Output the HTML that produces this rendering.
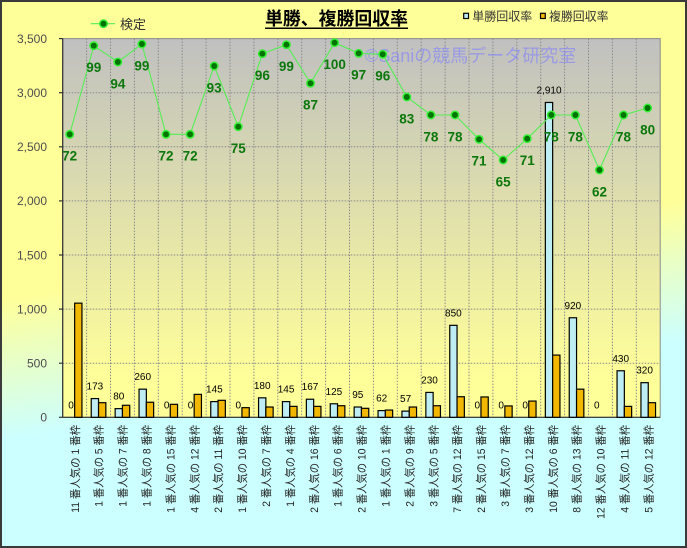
<!DOCTYPE html>
<html><head><meta charset="utf-8">
<style>
html,body{margin:0;padding:0;background:#fff;}
svg{display:block;}
text{font-family:"Liberation Sans","Noto Sans CJK JP",sans-serif;}
</style></head>
<body>
<svg width="687" height="548" viewBox="0 0 687 548" xmlns="http://www.w3.org/2000/svg">
<defs>
<linearGradient id="bg" gradientUnits="userSpaceOnUse" x1="333" y1="251" x2="353" y2="389">
<stop offset="0" stop-color="#FFFF99"/><stop offset="1" stop-color="#CCFFFF"/>
</linearGradient>
<linearGradient id="pa" gradientUnits="userSpaceOnUse" x1="0" y1="38.6" x2="0" y2="417.3">
<stop offset="0" stop-color="#C0C0C0"/><stop offset="0.9" stop-color="#FFFF99"/><stop offset="1" stop-color="#FFFF99"/>
</linearGradient>
</defs>
<rect x="0" y="0" width="687" height="548" fill="url(#bg)"/>
<rect x="1" y="1" width="685" height="546" fill="none" stroke="#3a3a3a" stroke-width="2"/>

<!-- plot area -->
<rect x="62.7" y="38.6" width="597.5" height="378.7" fill="url(#pa)" stroke="#8a8a8a" stroke-width="1"/>
<g stroke="#8a8a8a" stroke-width="1" stroke-dasharray="1.5,1.5">
<line x1="62.7" x2="660.2" y1="363.2" y2="363.2"/>
<line x1="62.7" x2="660.2" y1="309.1" y2="309.1"/>
<line x1="62.7" x2="660.2" y1="255.0" y2="255.0"/>
<line x1="62.7" x2="660.2" y1="200.9" y2="200.9"/>
<line x1="62.7" x2="660.2" y1="146.8" y2="146.8"/>
<line x1="62.7" x2="660.2" y1="92.7" y2="92.7"/>
<line y1="38.6" y2="417.3" x1="86.6" x2="86.6"/>
<line y1="38.6" y2="417.3" x1="110.5" x2="110.5"/>
<line y1="38.6" y2="417.3" x1="134.4" x2="134.4"/>
<line y1="38.6" y2="417.3" x1="158.3" x2="158.3"/>
<line y1="38.6" y2="417.3" x1="182.2" x2="182.2"/>
<line y1="38.6" y2="417.3" x1="206.1" x2="206.1"/>
<line y1="38.6" y2="417.3" x1="230.0" x2="230.0"/>
<line y1="38.6" y2="417.3" x1="253.9" x2="253.9"/>
<line y1="38.6" y2="417.3" x1="277.8" x2="277.8"/>
<line y1="38.6" y2="417.3" x1="301.7" x2="301.7"/>
<line y1="38.6" y2="417.3" x1="325.6" x2="325.6"/>
<line y1="38.6" y2="417.3" x1="349.5" x2="349.5"/>
<line y1="38.6" y2="417.3" x1="373.4" x2="373.4"/>
<line y1="38.6" y2="417.3" x1="397.3" x2="397.3"/>
<line y1="38.6" y2="417.3" x1="421.2" x2="421.2"/>
<line y1="38.6" y2="417.3" x1="445.1" x2="445.1"/>
<line y1="38.6" y2="417.3" x1="469.0" x2="469.0"/>
<line y1="38.6" y2="417.3" x1="492.9" x2="492.9"/>
<line y1="38.6" y2="417.3" x1="516.8" x2="516.8"/>
<line y1="38.6" y2="417.3" x1="540.7" x2="540.7"/>
<line y1="38.6" y2="417.3" x1="564.6" x2="564.6"/>
<line y1="38.6" y2="417.3" x1="588.5" x2="588.5"/>
<line y1="38.6" y2="417.3" x1="612.4" x2="612.4"/>
<line y1="38.6" y2="417.3" x1="636.3" x2="636.3"/>
</g>
<!-- axes -->
<g stroke="#333" stroke-width="1.2">
<line x1="62.7" x2="62.7" y1="38.6" y2="417.3"/>
<line x1="62.7" x2="660.2" y1="417.3" y2="417.3"/>
<line x1="59" x2="62.7" y1="38.6" y2="38.6"/>
<line x1="59" x2="62.7" y1="92.7" y2="92.7"/>
<line x1="59" x2="62.7" y1="146.8" y2="146.8"/>
<line x1="59" x2="62.7" y1="200.9" y2="200.9"/>
<line x1="59" x2="62.7" y1="255.0" y2="255.0"/>
<line x1="59" x2="62.7" y1="309.1" y2="309.1"/>
<line x1="59" x2="62.7" y1="363.2" y2="363.2"/>
<line x1="59" x2="62.7" y1="417.3" y2="417.3"/>
</g>
<!-- y labels -->
<g font-size="12" fill="#4d4d4d" text-anchor="end">
<text x="47" y="42.9">3,500</text>
<text x="47" y="97">3,000</text>
<text x="47" y="151.1">2,500</text>
<text x="47" y="205.2">2,000</text>
<text x="47" y="259.3">1,500</text>
<text x="47" y="313.4">1,000</text>
<text x="47" y="367.5">500</text>
<text x="47" y="421.6">0</text>
</g>

<!-- watermark -->
<text x="365" y="62" font-size="18" fill="#7f7fff" fill-opacity="0.6">©Saniの競馬データ研究室</text>

<!-- blue bars -->
<g fill="#BEEEF4" stroke="#000" stroke-width="1.2">
<rect x="91.25" y="398.58" width="7.3" height="18.72"/>
<rect x="115.15" y="408.64" width="7.3" height="8.66"/>
<rect x="139.05" y="389.17" width="7.3" height="28.13"/>
<rect x="210.75" y="401.61" width="7.3" height="15.69"/>
<rect x="258.55" y="397.83" width="7.3" height="19.47"/>
<rect x="282.45" y="401.61" width="7.3" height="15.69"/>
<rect x="306.35" y="399.23" width="7.3" height="18.07"/>
<rect x="330.25" y="403.78" width="7.3" height="13.52"/>
<rect x="354.15" y="407.02" width="7.3" height="10.28"/>
<rect x="378.05" y="410.59" width="7.3" height="6.71"/>
<rect x="401.95" y="411.13" width="7.3" height="6.17"/>
<rect x="425.85" y="392.42" width="7.3" height="24.88"/>
<rect x="449.75" y="325.34" width="7.3" height="91.96"/>
<rect x="545.35" y="102.47" width="7.3" height="314.83"/>
<rect x="569.25" y="317.77" width="7.3" height="99.53"/>
<rect x="617.05" y="370.78" width="7.3" height="46.52"/>
<rect x="640.95" y="382.68" width="7.3" height="34.62"/>
</g>
<!-- orange bars -->
<g fill="#F2B800" stroke="#000" stroke-width="1.2">
<rect x="74.65" y="303.16" width="7.3" height="114.14"/>
<rect x="98.55" y="402.69" width="7.3" height="14.61"/>
<rect x="122.45" y="405.29" width="7.3" height="12.01"/>
<rect x="146.35" y="402.26" width="7.3" height="15.04"/>
<rect x="170.25" y="404.32" width="7.3" height="12.98"/>
<rect x="194.15" y="394.36" width="7.3" height="22.94"/>
<rect x="218.05" y="400.31" width="7.3" height="16.99"/>
<rect x="241.95" y="407.67" width="7.3" height="9.63"/>
<rect x="265.85" y="407.02" width="7.3" height="10.28"/>
<rect x="289.75" y="406.37" width="7.3" height="10.93"/>
<rect x="313.65" y="406.37" width="7.3" height="10.93"/>
<rect x="337.55" y="405.72" width="7.3" height="11.58"/>
<rect x="361.45" y="408.32" width="7.3" height="8.98"/>
<rect x="385.35" y="410.05" width="7.3" height="7.25"/>
<rect x="409.25" y="407.02" width="7.3" height="10.28"/>
<rect x="433.15" y="405.72" width="7.3" height="11.58"/>
<rect x="457.05" y="396.74" width="7.3" height="20.56"/>
<rect x="480.95" y="396.96" width="7.3" height="20.34"/>
<rect x="504.85" y="405.94" width="7.3" height="11.36"/>
<rect x="528.75" y="401.07" width="7.3" height="16.23"/>
<rect x="552.65" y="355.09" width="7.3" height="62.21"/>
<rect x="576.55" y="389.17" width="7.3" height="28.13"/>
<rect x="624.35" y="406.37" width="7.3" height="10.93"/>
<rect x="648.25" y="402.69" width="7.3" height="14.61"/>
</g>
<!-- bar labels -->
<g font-size="10" fill="#000" text-anchor="middle">
<text x="71" y="408.3">0</text>
<text x="94.9" y="389.6">173</text>
<text x="118.8" y="399.6">80</text>
<text x="142.7" y="380.2">260</text>
<text x="166.6" y="408.3">0</text>
<text x="190.5" y="408.3">0</text>
<text x="214.4" y="392.6">145</text>
<text x="238.3" y="408.3">0</text>
<text x="262.2" y="388.8">180</text>
<text x="286.1" y="392.6">145</text>
<text x="310" y="390.2">167</text>
<text x="333.9" y="394.8">125</text>
<text x="357.8" y="398">95</text>
<text x="381.7" y="401.6">62</text>
<text x="405.6" y="402.1">57</text>
<text x="429.5" y="383.4">230</text>
<text x="453.4" y="316.3">850</text>
<text x="477.3" y="408.3">0</text>
<text x="501.2" y="408.3">0</text>
<text x="525.1" y="408.3">0</text>
<text x="549" y="93.5">2,910</text>
<text x="572.9" y="308.8">920</text>
<text x="596.8" y="408.3">0</text>
<text x="620.7" y="361.8">430</text>
<text x="644.6" y="373.7">320</text>
</g>

<!-- line series -->
<polyline fill="none" stroke="#55EE55" stroke-width="1.1" points="69.7,134.3 93.78,45.7 117.86,62 141.94,44 166.02,134.3 190.1,134.3 214.18,66 238.26,126.7 262.34,53.7 286.42,44.7 310.5,83.3 334.58,42.7 358.66,53.3 382.74,54.3 406.82,97 430.9,115 454.98,115 479.06,139.3 503.14,160 527.22,138.7 551.3,115 575.38,115 599.46,170 623.54,115 647.62,108"/>
<g fill="#007300" stroke="#33EE33" stroke-width="1.5">
<circle cx="69.7" cy="134.3" r="3.7"/>
<circle cx="93.78" cy="45.7" r="3.7"/>
<circle cx="117.86" cy="62" r="3.7"/>
<circle cx="141.94" cy="44" r="3.7"/>
<circle cx="166.02" cy="134.3" r="3.7"/>
<circle cx="190.1" cy="134.3" r="3.7"/>
<circle cx="214.18" cy="66" r="3.7"/>
<circle cx="238.26" cy="126.7" r="3.7"/>
<circle cx="262.34" cy="53.7" r="3.7"/>
<circle cx="286.42" cy="44.7" r="3.7"/>
<circle cx="310.5" cy="83.3" r="3.7"/>
<circle cx="334.58" cy="42.7" r="3.7"/>
<circle cx="358.66" cy="53.3" r="3.7"/>
<circle cx="382.74" cy="54.3" r="3.7"/>
<circle cx="406.82" cy="97" r="3.7"/>
<circle cx="430.9" cy="115" r="3.7"/>
<circle cx="454.98" cy="115" r="3.7"/>
<circle cx="479.06" cy="139.3" r="3.7"/>
<circle cx="503.14" cy="160" r="3.7"/>
<circle cx="527.22" cy="138.7" r="3.7"/>
<circle cx="551.3" cy="115" r="3.7"/>
<circle cx="575.38" cy="115" r="3.7"/>
<circle cx="599.46" cy="170" r="3.7"/>
<circle cx="623.54" cy="115" r="3.7"/>
<circle cx="647.62" cy="108" r="3.7"/>
</g>
<g font-size="13.5" font-weight="bold" fill="#0C780C" text-anchor="middle">
<text x="69.7" y="160.7">72</text>
<text x="93.78" y="72.1">99</text>
<text x="117.86" y="88.4">94</text>
<text x="141.94" y="70.4">99</text>
<text x="166.02" y="160.7">72</text>
<text x="190.1" y="160.7">72</text>
<text x="214.18" y="92.4">93</text>
<text x="238.26" y="153.1">75</text>
<text x="262.34" y="80.1">96</text>
<text x="286.42" y="71.1">99</text>
<text x="310.5" y="109.7">87</text>
<text x="334.58" y="69.1">100</text>
<text x="358.66" y="79.7">97</text>
<text x="382.74" y="80.7">96</text>
<text x="406.82" y="123.4">83</text>
<text x="430.9" y="141.4">78</text>
<text x="454.98" y="141.4">78</text>
<text x="479.06" y="165.7">71</text>
<text x="503.14" y="186.4">65</text>
<text x="527.22" y="165.1">71</text>
<text x="551.3" y="141.4">78</text>
<text x="575.38" y="141.4">78</text>
<text x="599.46" y="196.4">62</text>
<text x="623.54" y="141.4">78</text>
<text x="647.62" y="134.4">80</text>
</g>

<!-- x labels -->
<g font-size="11" fill="#222" text-anchor="end">
<text transform="translate(74.65,425) rotate(-90)" dy="0.38em" textLength="87.8" lengthAdjust="spacingAndGlyphs">11 番人気の 1 番枠</text>
<text transform="translate(98.55,425) rotate(-90)" dy="0.38em" textLength="81.7" lengthAdjust="spacingAndGlyphs">1 番人気の 5 番枠</text>
<text transform="translate(122.45,425) rotate(-90)" dy="0.38em" textLength="81.7" lengthAdjust="spacingAndGlyphs">1 番人気の 7 番枠</text>
<text transform="translate(146.35,425) rotate(-90)" dy="0.38em" textLength="81.7" lengthAdjust="spacingAndGlyphs">1 番人気の 8 番枠</text>
<text transform="translate(170.25,425) rotate(-90)" dy="0.38em" textLength="87.8" lengthAdjust="spacingAndGlyphs">1 番人気の 15 番枠</text>
<text transform="translate(194.15,425) rotate(-90)" dy="0.38em" textLength="87.8" lengthAdjust="spacingAndGlyphs">4 番人気の 12 番枠</text>
<text transform="translate(218.05,425) rotate(-90)" dy="0.38em" textLength="87.8" lengthAdjust="spacingAndGlyphs">2 番人気の 11 番枠</text>
<text transform="translate(241.95,425) rotate(-90)" dy="0.38em" textLength="87.8" lengthAdjust="spacingAndGlyphs">1 番人気の 10 番枠</text>
<text transform="translate(265.85,425) rotate(-90)" dy="0.38em" textLength="81.7" lengthAdjust="spacingAndGlyphs">2 番人気の 7 番枠</text>
<text transform="translate(289.75,425) rotate(-90)" dy="0.38em" textLength="81.7" lengthAdjust="spacingAndGlyphs">1 番人気の 4 番枠</text>
<text transform="translate(313.65,425) rotate(-90)" dy="0.38em" textLength="87.8" lengthAdjust="spacingAndGlyphs">2 番人気の 16 番枠</text>
<text transform="translate(337.55,425) rotate(-90)" dy="0.38em" textLength="81.7" lengthAdjust="spacingAndGlyphs">1 番人気の 6 番枠</text>
<text transform="translate(361.45,425) rotate(-90)" dy="0.38em" textLength="87.8" lengthAdjust="spacingAndGlyphs">2 番人気の 10 番枠</text>
<text transform="translate(385.35,425) rotate(-90)" dy="0.38em" textLength="81.7" lengthAdjust="spacingAndGlyphs">1 番人気の 1 番枠</text>
<text transform="translate(409.25,425) rotate(-90)" dy="0.38em" textLength="81.7" lengthAdjust="spacingAndGlyphs">2 番人気の 9 番枠</text>
<text transform="translate(433.15,425) rotate(-90)" dy="0.38em" textLength="81.7" lengthAdjust="spacingAndGlyphs">3 番人気の 5 番枠</text>
<text transform="translate(457.05,425) rotate(-90)" dy="0.38em" textLength="87.8" lengthAdjust="spacingAndGlyphs">7 番人気の 12 番枠</text>
<text transform="translate(480.95,425) rotate(-90)" dy="0.38em" textLength="87.8" lengthAdjust="spacingAndGlyphs">2 番人気の 15 番枠</text>
<text transform="translate(504.85,425) rotate(-90)" dy="0.38em" textLength="81.7" lengthAdjust="spacingAndGlyphs">3 番人気の 7 番枠</text>
<text transform="translate(528.75,425) rotate(-90)" dy="0.38em" textLength="87.8" lengthAdjust="spacingAndGlyphs">3 番人気の 12 番枠</text>
<text transform="translate(552.65,425) rotate(-90)" dy="0.38em" textLength="87.8" lengthAdjust="spacingAndGlyphs">10 番人気の 6 番枠</text>
<text transform="translate(576.55,425) rotate(-90)" dy="0.38em" textLength="87.8" lengthAdjust="spacingAndGlyphs">8 番人気の 13 番枠</text>
<text transform="translate(600.45,425) rotate(-90)" dy="0.38em" textLength="93.9" lengthAdjust="spacingAndGlyphs">12 番人気の 10 番枠</text>
<text transform="translate(624.35,425) rotate(-90)" dy="0.38em" textLength="87.8" lengthAdjust="spacingAndGlyphs">4 番人気の 11 番枠</text>
<text transform="translate(648.25,425) rotate(-90)" dy="0.38em" textLength="87.8" lengthAdjust="spacingAndGlyphs">5 番人気の 12 番枠</text>
</g>

<!-- title -->
<text x="336.5" y="25" font-size="18" font-weight="bold" fill="#000" text-anchor="middle" textLength="143" lengthAdjust="spacingAndGlyphs">単勝、複勝回収率</text>
<line x1="265" x2="408" y1="28.3" y2="28.3" stroke="#000" stroke-width="1.5"/>

<!-- legend left -->
<line x1="90.7" x2="115" y1="23.7" y2="23.7" stroke="#55EE55" stroke-width="1.1"/>
<circle cx="103.5" cy="23.7" r="3.7" fill="#007300" stroke="#33EE33" stroke-width="1.5"/>
<text x="120" y="29" font-size="13" fill="#333">検定</text>

<!-- legend right -->
<rect x="463.7" y="13.3" width="4.8" height="5.2" fill="#BEEEF4" stroke="#000" stroke-width="1.2"/>
<text x="472.3" y="20.5" font-size="12" fill="#333" textLength="60" lengthAdjust="spacingAndGlyphs">単勝回収率</text>
<rect x="540.5" y="13.3" width="4.8" height="5.2" fill="#F2B800" stroke="#000" stroke-width="1.2"/>
<text x="549" y="20.5" font-size="12" fill="#333" textLength="59.5" lengthAdjust="spacingAndGlyphs">複勝回収率</text>
</svg>
</body></html>
